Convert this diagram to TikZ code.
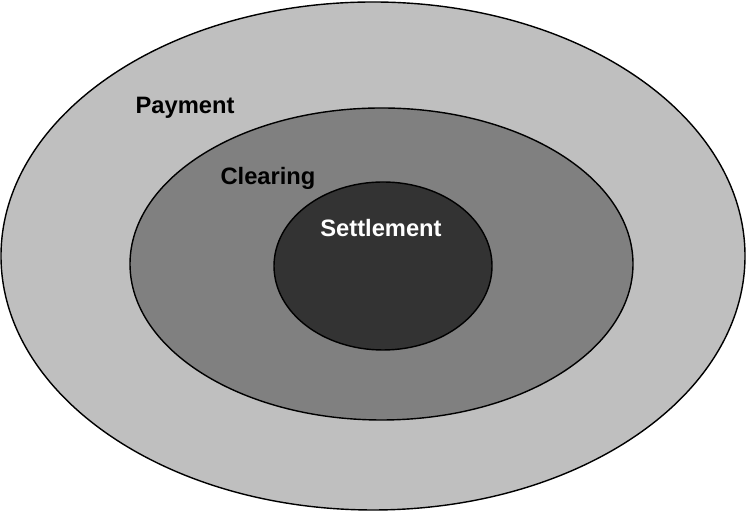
\documentclass[tikz,border=0pt]{standalone}
\usepackage{fontspec}
\setmainfont{Liberation Sans}
\definecolor{payfill}{rgb}{0.75, 0.75, 0.75}
\definecolor{clearfill}{rgb}{0.5, 0.5, 0.5}
\definecolor{settlefill}{rgb}{0.2, 0.2, 0.2}
\tikzset{
  ring/.style={draw=black, line width=0.8pt},
  lbl/.style={font=\fontsize{13.5}{16}\selectfont\bfseries, inner sep=0pt}
}
\begin{document}
\begin{tikzpicture}
\useasboundingbox (0,0) rectangle (14.92,10.26);

\filldraw[ring, fill=payfill] (7.46,5.14) ellipse (7.44 and 5.08);
\filldraw[ring, fill=clearfill] (7.63,4.98) ellipse (5.03 and 3.12);
\filldraw[ring, fill=settlefill] (7.66,4.94) ellipse (2.18 and 1.68);

\node[lbl] (payment) at (3.70,8.10) {Payment};
\node[lbl] (clearing) at (5.36,6.70) {Clearing};
\node[lbl, text=white] (settlement) at (7.62,5.70) {Settlement};
\end{tikzpicture}
\end{document}
